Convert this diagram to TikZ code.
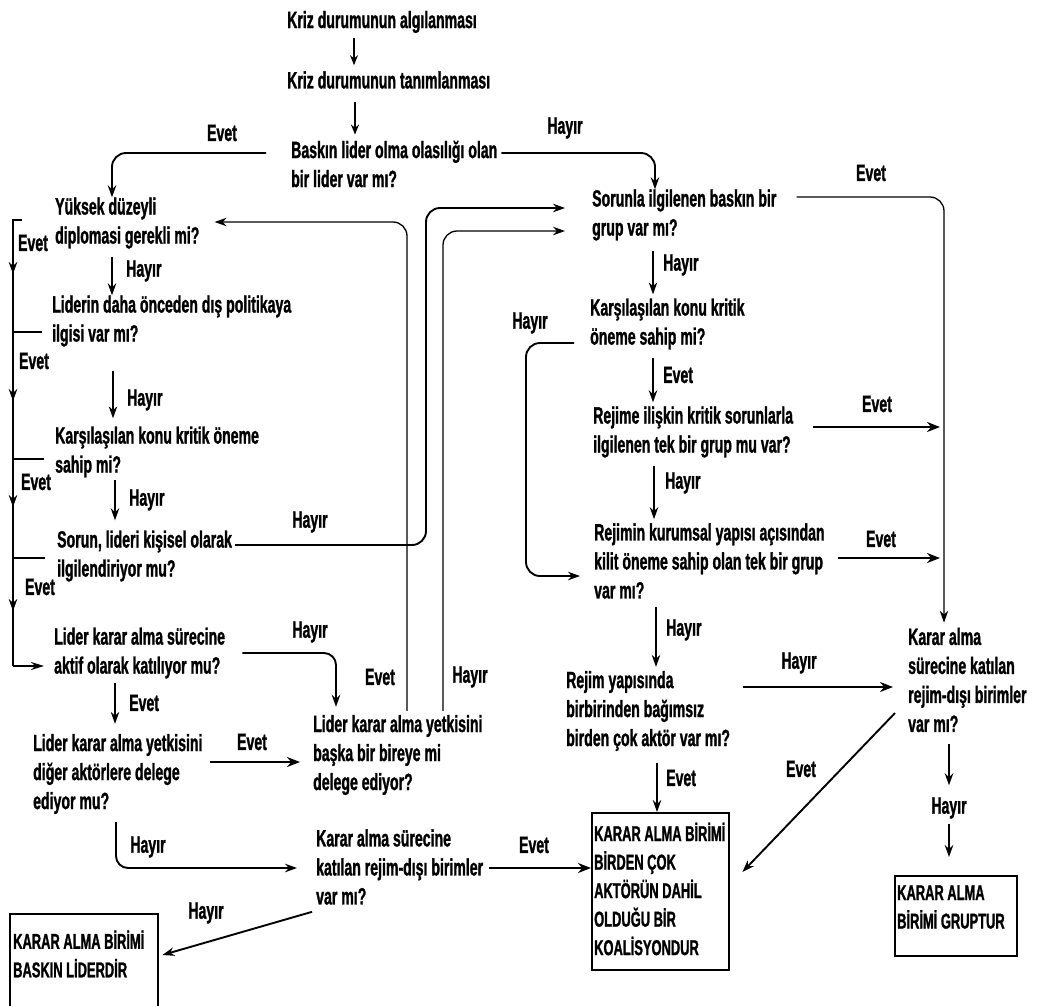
\documentclass[tikz,border=0pt]{standalone}
\usepackage{fontspec}
\setmainfont{Liberation Sans}[FakeStretch=0.6,BoldFeatures={FakeBold=1.2}]
\usetikzlibrary{arrows.meta,calc}
\newcommand\fs{\fontsize{23.5}{29}\selectfont\bfseries}
\newcommand\fsb{\fontsize{21.5}{28.5}\selectfont\bfseries}
\begin{document}
\begin{tikzpicture}[x=1pt,y=-1pt,
  txt/.style={anchor=west,align=left,inner sep=0pt,font=\fs},
  btxt/.style={anchor=west,align=left,inner sep=0pt,font=\fsb},
  lbl/.style={inner sep=0pt,font=\fs},
  tip/.style={-{Stealth[length=12pt,width=8.5pt]}},
  thn/.style={line width=1.3pt,tip},
  arr/.style={line width=1.9pt,tip},
  sht/.style={line width=2.4pt,-{Stealth[length=10pt,width=8pt]}},
  thk/.style={line width=2.8pt,-{Stealth[length=13pt,width=10pt]}},
  boxr/.style={draw,line width=2.4pt,inner sep=0pt,anchor=north west}]
\useasboundingbox[fill=white] (0,0) rectangle (1039,1005);

% ---- nodes
\node[txt] (n1) at (287,22) {Kriz durumunun algılanması};
\node[txt] (n2) at (287,80) {Kriz durumunun tanımlanması};
\node[txt] (n3) at (291,164) {Baskın lider olma olasılığı olan\\bir lider var mı?};
\node[txt] (a1) at (55,223) {Yüksek düzeyli\\diplomasi gerekli mi?};
\node[txt] (a2) at (52,321) {Liderin daha önceden dış politikaya\\ilgisi var mı?};
\node[txt] (a3) at (55,452) {Karşılaşılan konu kritik öneme\\sahip mi?};
\node[txt] (a4) at (57,556) {Sorun, lideri kişisel olarak\\ilgilendiriyor mu?};
\node[txt] (a5) at (54,653) {Lider karar alma sürecine\\aktif olarak katılıyor mu?};
\node[txt] (a6) at (33,774) {Lider karar alma yetkisini\\diğer aktörlere delege\\ediyor mu?};
\node[txt] (b1) at (313,755) {Lider karar alma yetkisini\\başka bir bireye mi\\delege ediyor?};
\node[txt] (b2) at (316,867) {Karar alma sürecine\\katılan rejim-dışı birimler\\var mı?};
\node[txt] (r1) at (592,215) {Sorunla ilgilenen baskın bir\\grup var mı?};
\node[txt] (r2) at (590,324) {Karşılaşılan konu kritik\\öneme sahip mi?};
\node[txt] (r3) at (593,432) {Rejime ilişkin kritik sorunlarla\\ilgilenen tek bir grup mu var?};
\node[txt] (r4) at (594,561) {Rejimin kurumsal yapısı açısından\\kilit öneme sahip olan tek bir grup\\var mı?};
\node[txt] (r5) at (566,711) {Rejim yapısında\\birbirinden bağımsız\\birden çok aktör var mı?};
\node[txt] (k1) at (908,680) {Karar alma\\sürecine katılan\\rejim-dışı birimler\\var mı?};

\node[boxr,minimum width=148pt,minimum height=100pt] (c1) at (9,913) {};
\node[btxt] (c1t) at (13,954) {KARAR ALMA BİRİMİ\\BASKIN LİDERDİR};
\node[boxr,minimum width=137pt,minimum height=157pt] (c2) at (591,812) {};
\node[btxt] (c2t) at (594,889) {KARAR ALMA BİRİMİ\\BİRDEN ÇOK\\AKTÖRÜN DAHİL\\OLDUĞU BİR\\KOALİSYONDUR};
\node[boxr,minimum width=122pt,minimum height=80pt] (c3) at (894,875) {};
\node[btxt] (c3t) at (897,907) {KARAR ALMA\\BİRİMİ GRUPTUR};

% ---- top
\draw[sht,shorten <=5pt,shorten >=6pt] (n1.south -| 354,0) -- (n2.north -| 354,0);
\draw[sht,shorten <=13pt,shorten >=6pt] (n2.south -| 355,0) -- (n3.north -| 355,0);
\draw[arr,rounded corners=14pt] ([xshift=4pt]n3.east |- 0,153) -- (655,153) -- (r1.north -| 655,0);
\node[lbl] at (565,128) {Hayır};
\draw[arr,rounded corners=14pt] ([xshift=-25pt]n3.west |- 0,153) -- (112,153) -- (a1.north -| 112,0);
\node[lbl] at (222,133) {Evet};

% ---- left column
\draw[thn,shorten <=8pt] (a1.south -| 112,0) -- (a2.north -| 112,0);
\node[lbl,anchor=west] at (126,271) {Hayır};
\draw[thn,shorten <=24pt,shorten >=8pt] (a2.south -| 113,0) -- (a3.north -| 113,0);
\node[lbl,anchor=west] at (127,400) {Hayır};
\draw[thn,shorten <=2pt,shorten >=10pt] (a3.south -| 115,0) -- (a4.north -| 115,0);
\node[lbl,anchor=west] at (129,500) {Hayır};
\draw[thn,shorten <=4pt,shorten >=10pt] (a5.south -| 115,0) -- (a6.north -| 115,0);
\node[lbl,anchor=west] at (129,703) {Evet};

% left Evet bracket
\draw[line width=2pt] ([xshift=-33pt]a1.west |- 0,220) -- (13,220) -- (13,666);
\draw[arr,-{Stealth[length=13pt,width=8pt]}] (13,666) -- ([xshift=-10pt]a5.west |- 0,666);
\draw[line width=2pt] ([xshift=-10pt]a2.west |- 0,332) -- (13,332);
\draw[line width=2pt] ([xshift=-11pt]a3.west |- 0,459) -- (13,459);
\draw[line width=2pt] ([xshift=-12pt]a4.west |- 0,558) -- (13,558);
\foreach \yy in {274,401,507,611} \draw[arr] (13,\yy-20) -- (13,\yy);
\node[lbl] at (33,243) {Evet};
\node[lbl] at (34,361) {Evet};
\node[lbl] at (36,482) {Evet};
\node[lbl] at (40,587) {Evet};

% left column branches
\draw[arr,rounded corners=14pt] ([xshift=3pt]a4.east |- 0,545) -- (426,545) -- (426,208) -- ([xshift=-27pt]r1.west |- 0,208);
\node[lbl] at (310,522) {Hayır};
\draw[thn,rounded corners=14pt,shorten <=4pt] (b1.north -| 407,0) -- (407,222) -- ([xshift=15pt]a1.east |- 0,222);
\node[lbl] at (380,677) {Evet};
\draw[thn,rounded corners=14pt,shorten <=4pt] (b1.north -| 443,0) -- (443,231) -- ([xshift=-27pt]r1.west |- 0,231);
\node[lbl] at (470,677) {Hayır};
\draw[arr,rounded corners=12pt,shorten >=8pt] ([xshift=17pt]a5.east |- 0,653) -- (336,653) -- (b1.north -| 336,0);
\node[lbl] at (310,632) {Hayır};
\draw[thk] ([xshift=7pt]a6.east |- 0,762) -- ([xshift=-13pt]b1.west |- 0,762);
\node[lbl] at (252,742) {Evet};
\draw[arr,rounded corners=12pt,shorten <=8pt] (a6.south -| 116,0) -- (116,868) -- ([xshift=-19pt]b2.west |- 0,868);
\node[lbl] at (148,847) {Hayır};
\draw[arr] ([shift={(-4pt,-7pt)}]b2.south west) -- ([xshift=3pt]c1.east |- 0,955);
\node[lbl] at (206,913) {Hayır};
\draw[thk] ([xshift=6pt]b2.east |- 0,868) -- (c2.west |- 0,868);
\node[lbl] at (534,845) {Evet};

% ---- right column
\draw[thn,rounded corners=14pt] ([xshift=20pt]r1.east |- 0,197) -- (944,197) -- ([yshift=5pt]k1.north -| 944,0);
\node[lbl] at (871,173) {Evet};
\draw[thn,shorten <=10pt,shorten >=4pt] (r1.south -| 653,0) -- (r2.north -| 653,0);
\node[lbl,anchor=west] at (663,265) {Hayır};
\draw[thn,shorten <=8pt,shorten >=4pt] (r2.south -| 653,0) -- (r3.north -| 653,0);
\node[lbl,anchor=west] at (663,375) {Evet};
\coordinate (e1) at (940,427);
\draw[thk] ([xshift=20pt]r3.east |- 0,427) -- (e1);
\node[lbl] at (877,404) {Evet};
\draw[thn,shorten <=8pt,shorten >=4pt] (r3.south -| 654,0) -- (r4.north -| 654,0);
\node[lbl,anchor=west] at (665,483) {Hayır};
\coordinate (e2) at (940,558);
\draw[thk] ([xshift=13pt]r4.east |- 0,558) -- (e2);
\node[lbl] at (881,539) {Evet};
\draw[arr,rounded corners=14pt] ([xshift=-16pt]r2.west |- 0,343) -- (526,343) -- (526,576) -- ([xshift=-14pt]r4.west |- 0,576);
\node[lbl] at (530,323) {Hayır};
\draw[thn,shorten <=8pt,shorten >=4pt] (r4.south -| 656,0) -- (r5.north -| 656,0);
\node[lbl,anchor=west] at (666,630) {Hayır};
\draw[thk] ([xshift=13pt]r5.east |- 0,687) -- ([xshift=-15pt]k1.west |- 0,687);
\node[lbl] at (799,663) {Hayır};
\draw[thn,shorten <=12pt] (r5.south -| 657,0) -- (c2.north -| 657,0);
\node[lbl,anchor=west] at (666,778) {Evet};
\draw[arr] ([xshift=-13pt]k1.west |- 0,713) -- ([xshift=12pt]c2.east |- 0,872);
\node[lbl] at (801,769) {Evet};
\node[lbl] (h1) at (949,808) {Hayır};
\draw[arr,shorten <=12pt,shorten >=12pt] (k1.south -| 949,0) -- (h1.north);
\draw[arr,shorten <=5pt,shorten >=18pt] (h1.south) -- (c3.north -| 949,0);
\end{tikzpicture}
\end{document}
